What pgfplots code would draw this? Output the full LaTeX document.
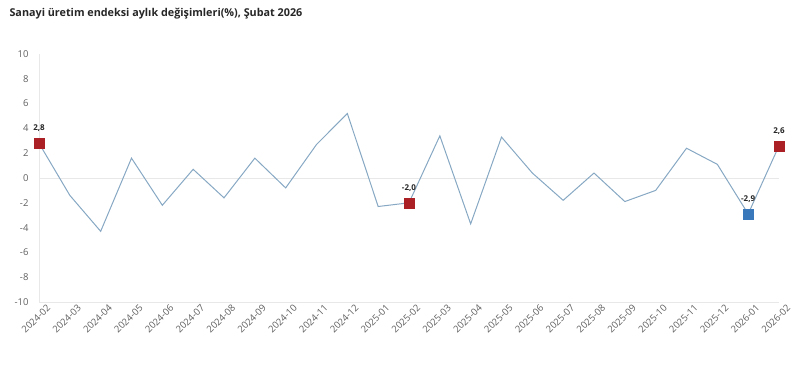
\documentclass[border=0pt]{standalone}
\usepackage{fontspec}
\setmainfont{Open Sans}
\usepackage{pgfplots}
\pgfplotsset{compat=1.18}
\definecolor{linec}{RGB}{135,168,195}
\definecolor{redm}{RGB}{170,32,36}
\definecolor{bluem}{RGB}{58,120,188}
\definecolor{gridc}{RGB}{232,232,232}
\definecolor{tickc}{RGB}{95,95,95}
\begin{document}
\begin{tikzpicture}[x=1pt,y=1pt]
\path[use as bounding box] (0,0) rectangle (800,377);
\node[anchor=west,font=\fontsize{10.8}{13}\selectfont\bfseries,text=black!85] at (6,363) {Sanayi üretim endeksi aylık değişimleri(\%), Şubat 2026};
\begin{axis}[
  at={(39pt,75pt)}, anchor=south west,
  scale only axis, width=740pt, height=248pt,
  xmin=0, xmax=24, ymin=-10, ymax=10,
  axis lines*=left,
  axis line style={gridc, line width=0.8pt},
  major tick length=0pt,
  xtick={0,...,24},
  xticklabels={2024-02,2024-03,2024-04,2024-05,2024-06,2024-07,2024-08,2024-09,2024-10,2024-11,2024-12,2025-01,2025-02,2025-03,2025-04,2025-05,2025-06,2025-07,2025-08,2025-09,2025-10,2025-11,2025-12,2026-01,2026-02},
  x tick label style={rotate=45, anchor=north east, font=\fontsize{9.5}{11}\selectfont, text=tickc, xshift=4pt, yshift=-6pt, inner sep=0pt},
  ytick={-10,-8,-6,-4,-2,0,2,4,6,8,10},
  yticklabels={-10,-8,-6,-4,-2,0,2,4,6,8,10},
  y tick label style={font=\fontsize{9.5}{11}\selectfont, text=tickc, xshift=-7pt},
  clip=false,
]
\addplot[gridc, line width=0.8pt, forget plot] coordinates {(0,0) (24,0)};
\addplot[linec, line width=1pt, mark=none] coordinates {
(0,2.8) (1,-1.4) (2,-4.3) (3,1.6) (4,-2.2) (5,0.7) (6,-1.6) (7,1.6) (8,-0.8) (9,2.7) (10,5.2) (11,-2.3) (12,-2.0) (13,3.4) (14,-3.7) (15,3.3) (16,0.4) (17,-1.8) (18,0.4) (19,-1.9) (20,-1.0) (21,2.4) (22,1.1) (23,-2.9) (24,2.6)};
\addplot[only marks, mark=square*, mark size=5pt, redm,
  nodes near coords, point meta=explicit symbolic,
  every node near coord/.style={font=\fontsize{8}{9}\selectfont\bfseries, text=black!85, yshift=8pt}]
  coordinates {(0,2.8)[2,8] (12,-2.0)[-2,0] (24,2.6)[2,6]};
\addplot[only marks, mark=square*, mark size=5pt, bluem,
  nodes near coords, point meta=explicit symbolic,
  every node near coord/.style={font=\fontsize{8}{9}\selectfont\bfseries, text=black!85, yshift=8pt}]
  coordinates {(23,-2.9)[-2,9]};
\end{axis}
\end{tikzpicture}
\end{document}
